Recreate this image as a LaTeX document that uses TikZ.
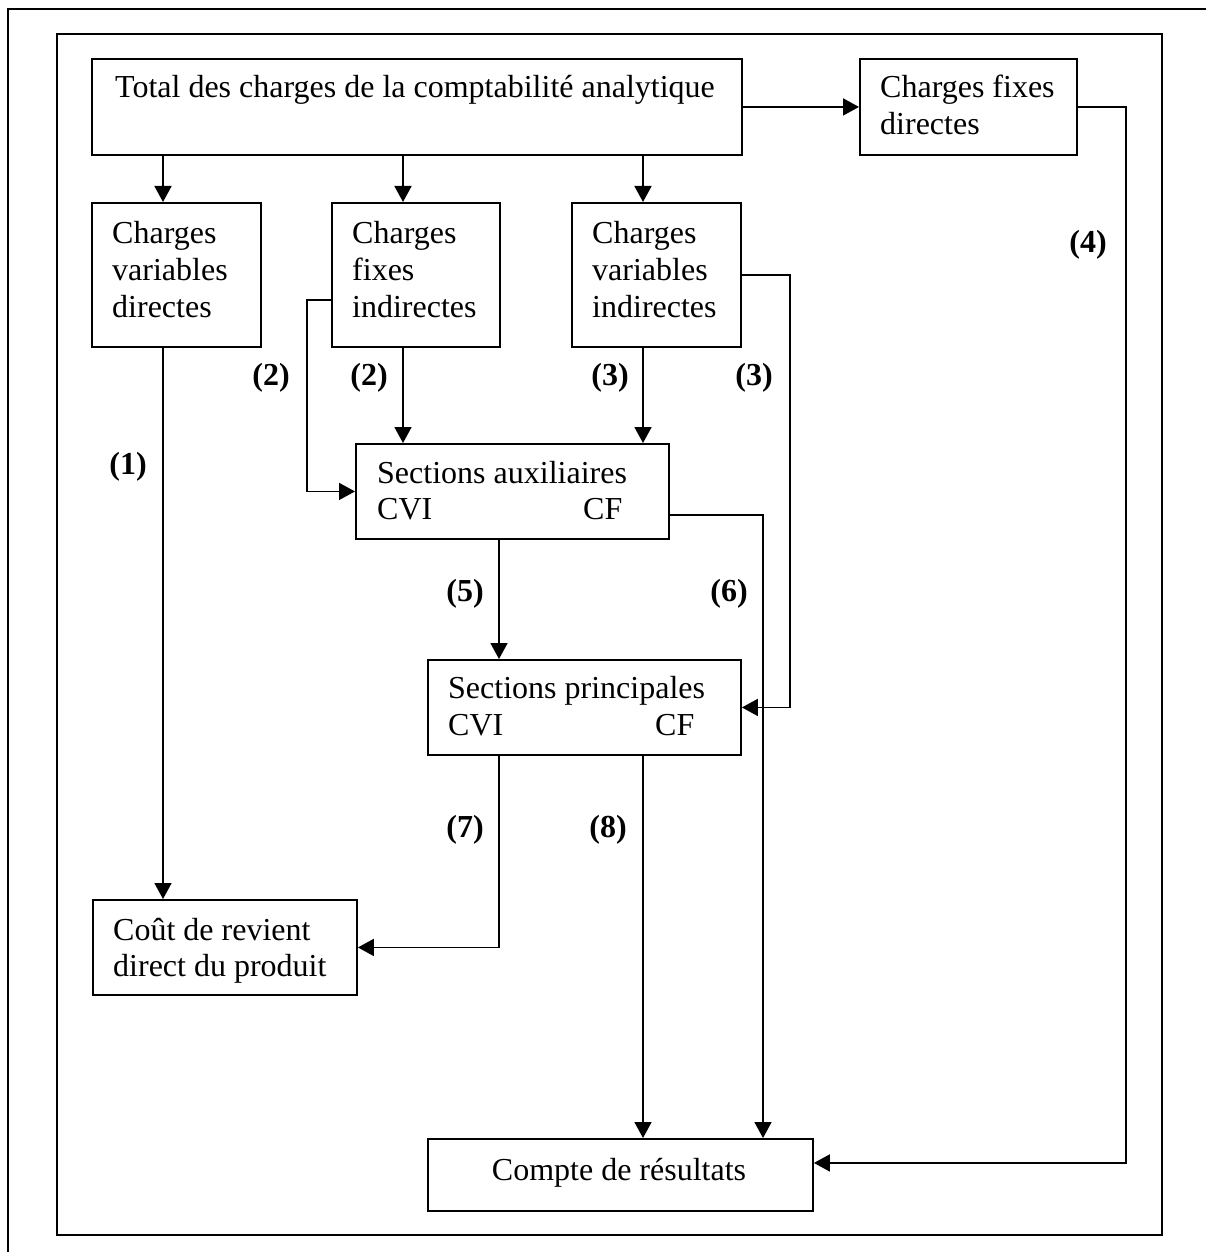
\documentclass[tikz,border=0pt]{standalone}
\usepackage{fontspec}
\setmainfont{Liberation Serif}
\usetikzlibrary{arrows.meta}
\begin{document}
\begin{tikzpicture}[x=1pt,y=-1pt,
  box/.style={draw, line width=1.9pt, inner sep=0pt, anchor=north west},
  txt/.style={inner sep=0pt, anchor=base west, font=\fontsize{32}{37}\selectfont},
  lab/.style={inner sep=0pt, anchor=center, font=\fontsize{32}{37}\selectfont\bfseries},
  arr/.style={line width=1.7pt, -{Triangle[length=16pt,width=17pt]}},
  frame/.style={line width=2.4pt}]
\useasboundingbox (0,0) rectangle (1206,1252);
% frames
\draw[frame] (8,1252) -- (8,9) -- (1206,9);
\draw[frame] (57,34) rectangle (1162,1235);
% boxes
\node[box, minimum width=650pt, minimum height=96pt] (tot) at (91,58) {};
\node[box, minimum width=217pt, minimum height=96pt] (cfd) at (859,58) {};
\node[box, minimum width=169pt, minimum height=144pt] (cvd) at (91,202) {};
\node[box, minimum width=168pt, minimum height=144pt] (cfi) at (331,202) {};
\node[box, minimum width=169pt, minimum height=144pt] (cvi) at (571,202) {};
\node[box, minimum width=313pt, minimum height=95pt] (sa) at (355,443) {};
\node[box, minimum width=313pt, minimum height=95pt] (sp) at (427,659) {};
\node[box, minimum width=264pt, minimum height=95pt] (cout) at (92,899) {};
\node[box, minimum width=385pt, minimum height=72pt] (cr) at (427,1138) {};
% texts
\node[txt] (t1) at (115,98) {Total des charges de la comptabilité analytique};
\node[txt] (t2a) at (880,98) {Charges fixes};
\node[txt] (t2b) at (880,135) {directes};
\node[txt] (t3a) at (112,243) {Charges};
\node[txt] (t3b) at (112,280) {variables};
\node[txt] (t3c) at (112,317) {directes};
\node[txt] (t4a) at (352,243) {Charges};
\node[txt] (t4b) at (352,280) {fixes};
\node[txt] (t4c) at (352,317) {indirectes};
\node[txt] (t5a) at (592,243) {Charges};
\node[txt] (t5b) at (592,280) {variables};
\node[txt] (t5c) at (592,317) {indirectes};
\node[txt] (t6a) at (377,483) {Sections auxiliaires};
\node[txt] (t6b) at (377,519) {CVI};
\node[txt] (t6c) at (583,519) {CF};
\node[txt] (t7a) at (448,698) {Sections principales};
\node[txt] (t7b) at (448,735) {CVI};
\node[txt] (t7c) at (655,735) {CF};
\node[txt] (t8a) at (113,940) {Coût de revient};
\node[txt] (t8b) at (113,976) {direct du produit};
\node[txt, anchor=base] (t9) at (619,1180) {Compte de résultats};
% labels
\node[lab] (l1) at (128,467) {(1)};
\node[lab] (l2a) at (271,378) {(2)};
\node[lab] (l2b) at (369,378) {(2)};
\node[lab] (l3a) at (610,378) {(3)};
\node[lab] (l3b) at (754,378) {(3)};
\node[lab] (l4) at (1088,245) {(4)};
\node[lab] (l5) at (465,594) {(5)};
\node[lab] (l6) at (729,594) {(6)};
\node[lab] (l7) at (465,830) {(7)};
\node[lab] (l8) at (608,830) {(8)};
% connectors
\draw[arr] ([xshift=72pt]cvd.north west |- tot.south) -- ([xshift=72pt]cvd.north west);
\draw[arr] ([xshift=72pt]cfi.north west |- tot.south) -- ([xshift=72pt]cfi.north west);
\draw[arr] ([xshift=72pt]cvi.north west |- tot.south) -- ([xshift=72pt]cvi.north west);
\draw[arr] (tot.east) -- (cfd.west);
\draw[arr] ([xshift=72pt]cvd.south west) -- ([xshift=71pt]cout.north west);
\draw[arr] ([xshift=72pt]cfi.south west) -- ([xshift=48pt]sa.north west);
\draw[arr] ([yshift=-25pt]cfi.west) -- ++(-24,0) |- (sa.west);
\draw[arr] ([xshift=72pt]cvi.south west) -- ([xshift=288pt]sa.north west);
\draw[arr] (cvi.east) -- ++(48,0) |- (sp.east);
\draw[arr] ([yshift=-23.5pt]sa.east) -| ([xshift=336pt]cr.north west);
\draw[arr] ([xshift=144pt]sa.south west) -- ([xshift=72pt]sp.north west);
\draw[arr] ([xshift=72pt]sp.south west) |- (cout.east);
\draw[arr] ([xshift=216pt]sp.south west) -- ([xshift=216pt]cr.north west);
\draw[arr] (cfd.east) -- ++(48,0) |- ([yshift=12pt]cr.east);
\end{tikzpicture}
\end{document}
